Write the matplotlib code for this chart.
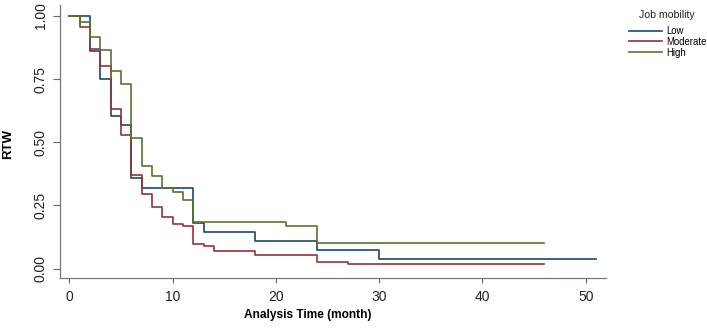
import matplotlib
matplotlib.use("Agg")
import matplotlib.pyplot as plt

# Kaplan-Meier steps
low_t = [0, 2, 3, 4, 5, 6, 7, 12, 13, 18, 24, 30, 51]
low_s = [1.0, 0.86, 0.75, 0.605, 0.57, 0.36, 0.32, 0.18, 0.145, 0.11, 0.073, 0.037, 0.037]

mod_t = [0, 1, 2, 3, 4, 5, 6, 7, 8, 9, 10, 11, 12, 13, 14, 18, 24, 27, 46]
mod_s = [1.0, 0.955, 0.87, 0.80, 0.63, 0.53, 0.37, 0.295, 0.245, 0.205, 0.175, 0.17,
         0.097, 0.09, 0.07, 0.055, 0.028, 0.017, 0.017]

high_t = [0, 1, 2, 3, 4, 5, 6, 7, 8, 9, 10, 11, 12, 21, 24, 46]
high_s = [1.0, 0.975, 0.915, 0.865, 0.78, 0.73, 0.515, 0.405, 0.365, 0.32, 0.305, 0.27,
          0.185, 0.17, 0.10, 0.10]

labels = ["Low", "Moderate", "High"]
colors = ["#1a476f", "#90353b", "#55752f"]
xticks = [0, 10, 20, 30, 40, 50]
yticks = [0.0, 0.25, 0.5, 0.75, 1.0]

plt.rcParams["font.family"] = ["Liberation Sans", "DejaVu Sans"]

fig = plt.figure(figsize=(7.07, 3.30), dpi=100)
ax = fig.add_axes([0.0853, 0.1576, 0.7714, 0.827])

for t, s, lab, c in zip([low_t, mod_t, high_t], [low_s, mod_s, high_s], labels, colors):
    ax.step(t, s, where="post", color=c, lw=1.2, label=lab)

ax.set_xlim(-0.87, 51.93)
ax.set_ylim(-0.0368, 1.0423)
ax.set_xticks(xticks)
ax.set_yticks(yticks)
ax.set_yticklabels(["%.2f" % v for v in yticks], rotation=90, va="center")
ax.tick_params(axis="y", length=5, width=0.8, color="#666666", labelsize=10, pad=4, labelcolor="#222222")
ax.tick_params(axis="x", length=3.6, width=0.8, color="#666666", labelsize=10, pad=5, labelcolor="#222222")
for sp in ["top", "right"]:
    ax.spines[sp].set_visible(False)
for sp in ["left", "bottom"]:
    ax.spines[sp].set_color("#777777")
    ax.spines[sp].set_linewidth(0.9)

ax.set_xlabel("Analysis Time (month)", fontsize=8.6, fontweight="bold")
ax.xaxis.set_label_coords(0.454, -0.115)
ax.set_ylabel("RTW", fontsize=9.5, fontweight="bold")
ax.yaxis.set_label_coords(-0.084, 0.49)

# legend: title as its own text, entries below it
fig.text(667 / 707, 1 - 15 / 330, "Job mobility", fontsize=7.6, ha="center", va="center",
         color="#222222")
leg = fig.legend(loc="upper left", bbox_to_anchor=(629 / 707, 1 - 26 / 330), frameon=False,
                 fontsize=6.9, handlelength=3.4, handletextpad=0.5,
                 labelspacing=0.08, borderpad=0, borderaxespad=0)

fig.savefig("out.png", dpi=100)
